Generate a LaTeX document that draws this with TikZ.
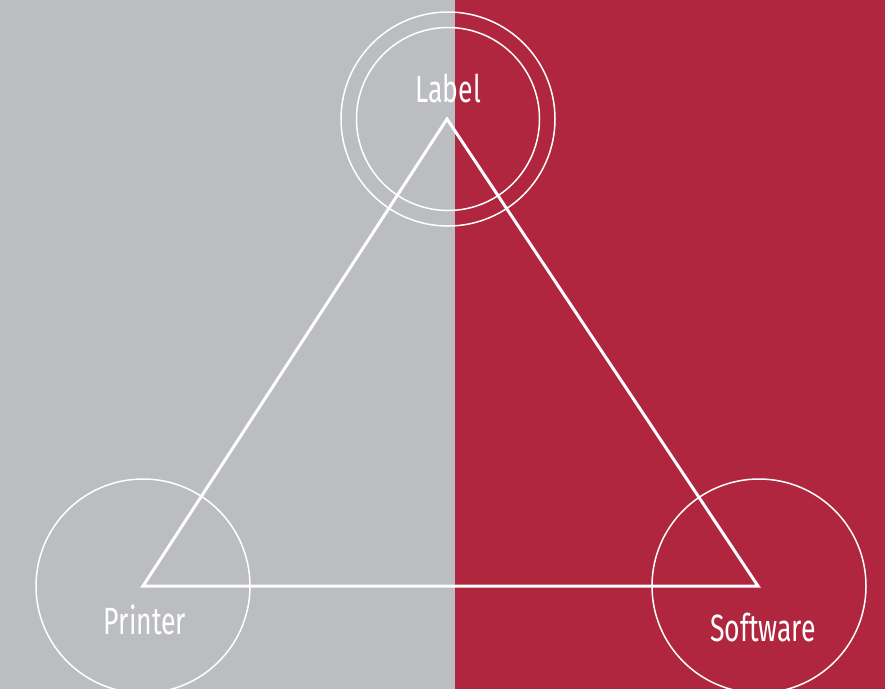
\documentclass[tikz,border=0pt]{standalone}
\usepackage{fontspec}
\setmainfont{Fira Sans}

\definecolor{greyside}{RGB}{188,189,192}
\definecolor{redside}{RGB}{176,38,62}

\begin{document}
\begin{tikzpicture}[x=1pt,y=-1pt]
    \tikzstyle{ring}=[
        draw=white,
        shape=circle,
        line width=1.5pt,
        inner sep=0pt,
        minimum size=214pt]
    \tikzstyle{corner}=[inner sep=0pt,minimum size=0pt]
    \tikzstyle{word}=[text=white,anchor=base,inner sep=0pt,
        font=\fontsize{38}{38}\selectfont,xscale=0.7]

    % two coloured halves
    \useasboundingbox (0,0) rectangle (885,689);
    \fill[greyside] (0,0) rectangle (455,689);
    \fill[redside] (455,0) rectangle (885,689);

    \node[corner] (top) at (447,119) {};
    \node[corner] (left) at (143,586) {};
    \node[corner] (right) at (758,586) {};

    \node[ring] (ctop) at (448,119) {};
    \node[ring,minimum size=183pt] (cin) at (448,119) {};
    \node[ring] (cleft) at (143,586) {};
    \node[ring] (cright) at (759,586) {};

    \draw[white,line width=3pt,line join=miter] (top.center) -- (left.center) -- (right.center) -- cycle;

    \node[word] at (448,102) {Label};
    \node[word] at (145,634) {Printer};
    \node[word] at (763,641) {Software};
\end{tikzpicture}
\end{document}
